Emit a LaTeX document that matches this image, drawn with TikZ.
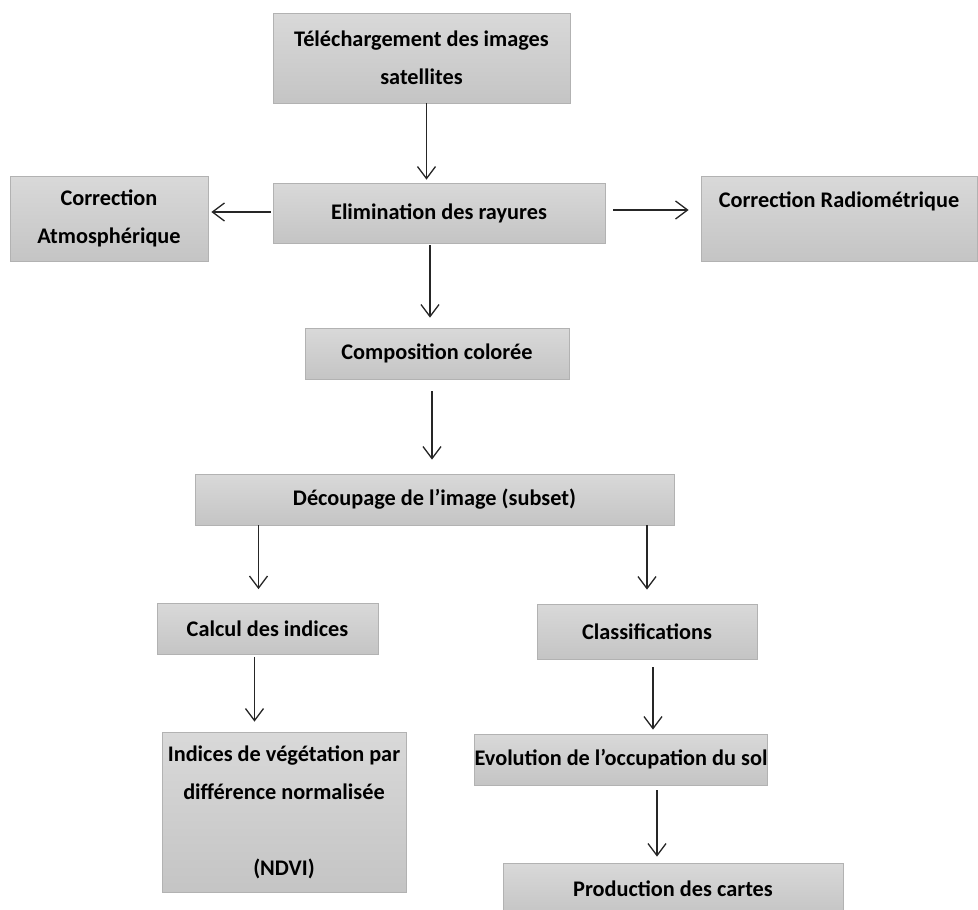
\documentclass[tikz,border=0pt]{standalone}
\usepackage{fontspec}
\setmainfont{Carlito}
\usetikzlibrary{arrows.meta}
\tikzset{
	etape/.style={draw=black!30,line width=0.8pt,top color=black!15,bottom color=black!23,inner sep=0pt,align=center,font=\bfseries\fontsize{22.3}{38}\selectfont},
	fleche/.style={-{Straight Barb[length=12pt,width=18pt,line width=1.3pt]},line width=1.3pt,black!85}
}
\begin{document}
\begin{tikzpicture}[x=1pt,y=-1pt]
	   \useasboundingbox (0,0) rectangle (978,910);
	   \clip (0,0) rectangle (978,910);
	   \node [etape,minimum width=297pt,minimum height=90pt] (telech) at (421.5,58) {Téléchargement des images\\satellites};
	   \node [etape,minimum width=332pt,minimum height=60pt] (elim) at (439,213) {Elimination des rayures};
	   \node [etape,minimum width=198pt,minimum height=85pt] (atmos) at (109,218.5) {Correction\\Atmosphérique};
	   \node [etape,minimum width=276pt,minimum height=85pt] (radio) at (839,218.5) {Correction Radiométrique\\\mbox{}};
	   \node [etape,minimum width=264pt,minimum height=51pt] (compo) at (437,353.5) {Composition colorée};
	   \node [etape,minimum width=479pt,minimum height=51pt] (decoup) at (434.5,499.5) {Découpage de l’image (subset)};
	   \node [etape,minimum width=221pt,minimum height=51pt] (calcul) at (267.5,629) {Calcul des indices};
	   \node [etape,minimum width=220pt,minimum height=55pt] (classif) at (647,631.5) {Classifications};
	   \node [etape,minimum width=244pt,minimum height=160pt] (ndvi) at (284,812) {Indices de végétation par\\différence normalisée\\[38pt](NDVI)};
	   \node [etape,minimum width=292pt,minimum height=51pt] (evol) at (621,759.5) {Evolution de l’occupation du sol};
	   \node [etape,minimum width=340pt,minimum height=52pt] (prod) at (673,889) {Production des cartes};
	   \draw [fleche,shorten >=3pt] ([xshift=5pt]telech.south) -- ([xshift=5pt]telech.south |- elim.north);
	   \draw [fleche,shorten <=2pt,shorten >=3pt] ([yshift=1pt]elim.west) -- ([yshift=1pt]elim.west -| atmos.east);
	   \draw [fleche,shorten <=8pt,shorten >=12pt] ([yshift=3pt]elim.east) -- ([yshift=3pt]elim.east -| radio.west);
	   \draw [fleche,shorten <=2pt,shorten >=10pt] ([xshift=-9pt]elim.south) -- ([xshift=-9pt]elim.south |- compo.north);
	   \draw [fleche,shorten <=12pt,shorten >=14pt] ([xshift=-5pt]compo.south) -- ([xshift=-5pt]compo.south |- decoup.north);
	   \draw [fleche,shorten >=14pt] ([xshift=-9pt]calcul.north |- decoup.south) -- ([xshift=-9pt]calcul.north);
	   \draw [fleche,shorten >=14pt] (classif.north |- decoup.south) -- (classif.north);
	   \draw [fleche,shorten <=2pt,shorten >=10pt] ([xshift=-13pt]calcul.south) -- ([xshift=-13pt]calcul.south |- ndvi.north);
	   \draw [fleche,shorten <=8pt,shorten >=4pt] ([xshift=6pt]classif.south) -- ([xshift=6pt]classif.south |- evol.north);
	   \draw [fleche,shorten <=5pt,shorten >=6pt] ([xshift=36pt]evol.south) -- ([xshift=36pt]evol.south |- prod.north);
	\end{tikzpicture}
\end{document}
